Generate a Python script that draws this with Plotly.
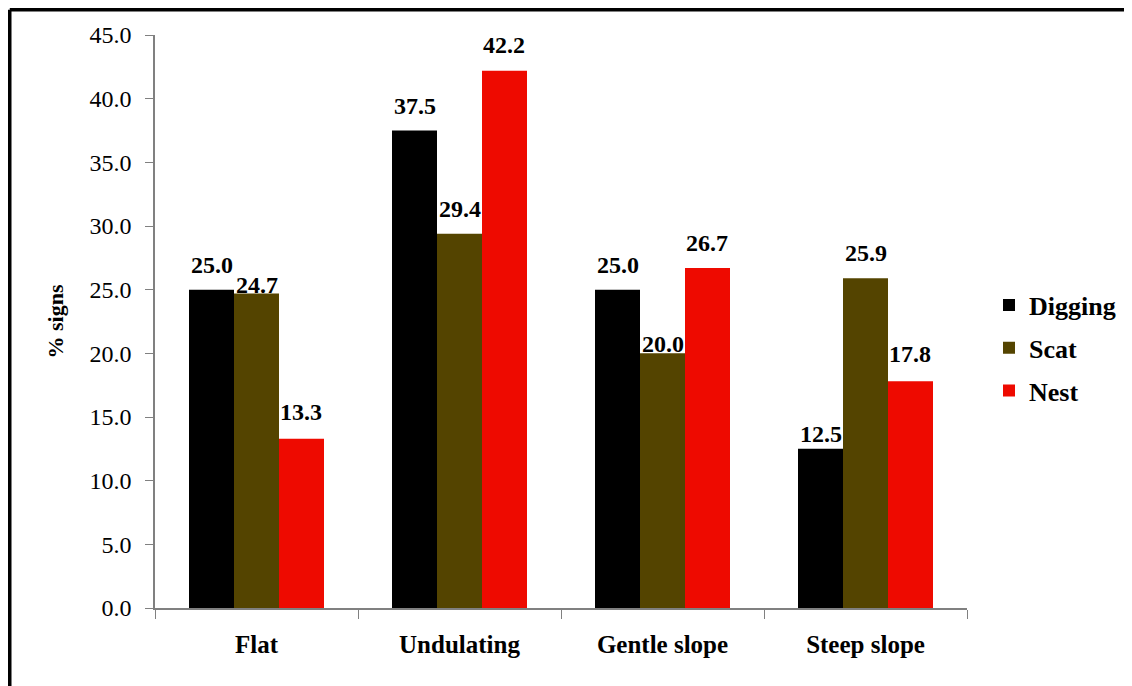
import plotly.graph_objects as go

categories = ["Flat", "Undulating", "Gentle slope", "Steep slope"]
digging = [25.0, 37.5, 25.0, 12.5]
scat = [24.7, 29.4, 20.0, 25.9]
nest = [13.3, 42.2, 26.7, 17.8]
series_names = ["Digging", "Scat", "Nest"]
colors = ["#000000", "#544400", "#EE0A00"]

# vertical nudge (px) of each value label above its bar, as placed in the original
label_shift = [
    [10, 10, 10, 0],    # Digging
    [-7, 10, -6, 10],   # Scat
    [12, 11, 10, 12],   # Nest
]

font_family = "Liberation Serif, Times New Roman, serif"

# page body has an 8px margin, so figure coords = screen coords - 8
OFF = 8
W, H = 1132, 686
ax_left, ax_right, ax_top, ax_bottom = 155 - OFF, 967 - OFF, 35 - OFF, 608 - OFF
L, R, T, B = ax_left, W - ax_right, ax_top, H - ax_bottom
pw, ph = W - L - R, H - T - B
bargap = 0.335
bar_px = pw / len(categories) * (1 - bargap) / len(series_names)

fig = go.Figure()
all_vals = [digging, scat, nest]
for i, (name, vals, col) in enumerate(zip(series_names, all_vals, colors)):
    fig.add_trace(go.Bar(
        x=categories, y=vals, name=name, legendgroup=name,
        marker=dict(color=col, line=dict(width=0)),
    ))
    for j, (c, v) in enumerate(zip(categories, vals)):
        fig.add_annotation(
            x=c, y=v, xref="x", yref="y", text=f"{v:.1f}", showarrow=False,
            xanchor="center", yanchor="bottom",
            xshift=(i - 1) * bar_px, yshift=label_shift[i][j],
            font=dict(family=font_family, size=24, color="black", weight="bold"),
        )

fig.update_layout(
    width=W, height=H,
    margin=dict(l=L, r=R, t=T, b=B, pad=0),
    paper_bgcolor="white", plot_bgcolor="white",
    barmode="group", bargap=bargap, bargroupgap=0,
    font=dict(family=font_family, color="black"),
    showlegend=True,
    legend=dict(
        x=(989 - OFF - L) / pw, y=(ax_bottom - (348 - OFF)) / ph,
        xanchor="left", yanchor="middle",
        font=dict(family=font_family, size=26, color="black", weight="bold"),
        traceorder="grouped", tracegroupgap=6, itemwidth=30,
        bgcolor="rgba(0,0,0,0)",
    ),
    xaxis=dict(
        showline=True, linecolor="#808080", linewidth=1.5,
        ticks="outside", tickson="boundaries", ticklen=9, tickcolor="#808080",
        tickfont=dict(family=font_family, size=25, color="black", weight="bold"),
        ticklabelstandoff=13,
        showgrid=False,
    ),
    yaxis=dict(
        range=[0, 45], dtick=5, tickformat=".1f",
        showline=True, linecolor="#808080", linewidth=1.5,
        ticks="outside", ticklen=8, tickcolor="#808080",
        tickfont=dict(family=font_family, size=24, color="black"),
        ticklabelstandoff=9,
        showgrid=False, zeroline=False,
        title=dict(text="% signs", standoff=20,
                   font=dict(family=font_family, size=22, color="black", weight="bold")),
    ),
)

# outer frame (cropped at right and bottom); drawn at the page's top-left edge
x_left = (1.75 - L) / pw
y_top = (ax_bottom - 1.75) / ph
fig.add_shape(type="line", xref="paper", yref="paper",
              x0=x_left, y0=y_top, x1=(W + 5 - L) / pw, y1=y_top,
              line=dict(color="black", width=3.5))
fig.add_shape(type="line", xref="paper", yref="paper",
              x0=x_left, y0=y_top, x1=x_left, y1=(ax_bottom - H - 5) / ph,
              line=dict(color="black", width=3.5))

fig.write_html("out.html")
